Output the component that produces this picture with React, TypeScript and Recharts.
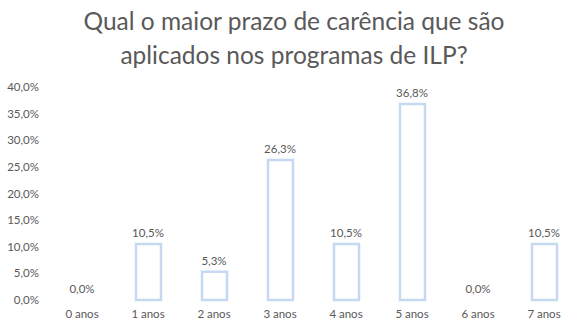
import React from 'react';
import { ComposedChart, Bar, Line, XAxis, YAxis, LabelList } from 'recharts';

const categories = ['0 anos', '1 anos', '2 anos', '3 anos', '4 anos', '5 anos', '6 anos', '7 anos'];
const values = [0, 10.5, 5.3, 26.3, 10.5, 36.8, 0, 10.5];
const yTicks = [0, 5, 10, 15, 20, 25, 30, 35, 40];
const titleLines = ['Qual o maior prazo de carência que são', 'aplicados nos programas de ILP?'];

const data = categories.map((c, i) => ({ name: c, value: values[i] }));
const fmt = (v: number) => v.toFixed(1).replace('.', ',') + '%';
const FONT = 'Lato, "Open Sans", sans-serif';
const GREY = '#595959';

const ValueLabel = (props: any) => {
  const { x, y, value } = props;
  return (
    <text x={Number(x)} y={Number(y) - 7} textAnchor="middle"
      fill={GREY} fontSize={11.5} fontFamily={FONT}>{fmt(Number(value))}</text>
  );
};

export default function App() {
  return (
    <div style={{ position: 'absolute', left: 0, top: 0, width: 588, height: 331, background: '#fff', fontFamily: FONT }}>
      <div style={{ position: 'absolute', left: 0, top: 4, width: 588, textAlign: 'center', color: GREY, fontSize: 24.5, lineHeight: '34px' }}>
        {titleLines.map((t, i) => <div key={i}>{t}</div>)}
      </div>
      <ComposedChart width={588} height={331} data={data} margin={{ top: 87, right: 11, bottom: 0, left: 0 }}>
        <XAxis dataKey="name" axisLine={false} tickLine={false} height={31} tickMargin={4}
          tick={{ fill: GREY, fontSize: 11.5, fontFamily: FONT }} interval={0} />
        <YAxis domain={[0, 40]} ticks={yTicks} axisLine={false} tickLine={false} width={49} tickMargin={4}
          tickFormatter={fmt} tick={{ fill: GREY, fontSize: 11.5, fontFamily: FONT }} />
        <Bar dataKey="value" fill="#ffffff" stroke="#c5d9f1" strokeWidth={2.5} barSize={25} isAnimationActive={false} />
        <Line dataKey="value" stroke="none" dot={false} activeDot={false} isAnimationActive={false}>
          <LabelList dataKey="value" content={ValueLabel} />
        </Line>
      </ComposedChart>
    </div>
  );
}
